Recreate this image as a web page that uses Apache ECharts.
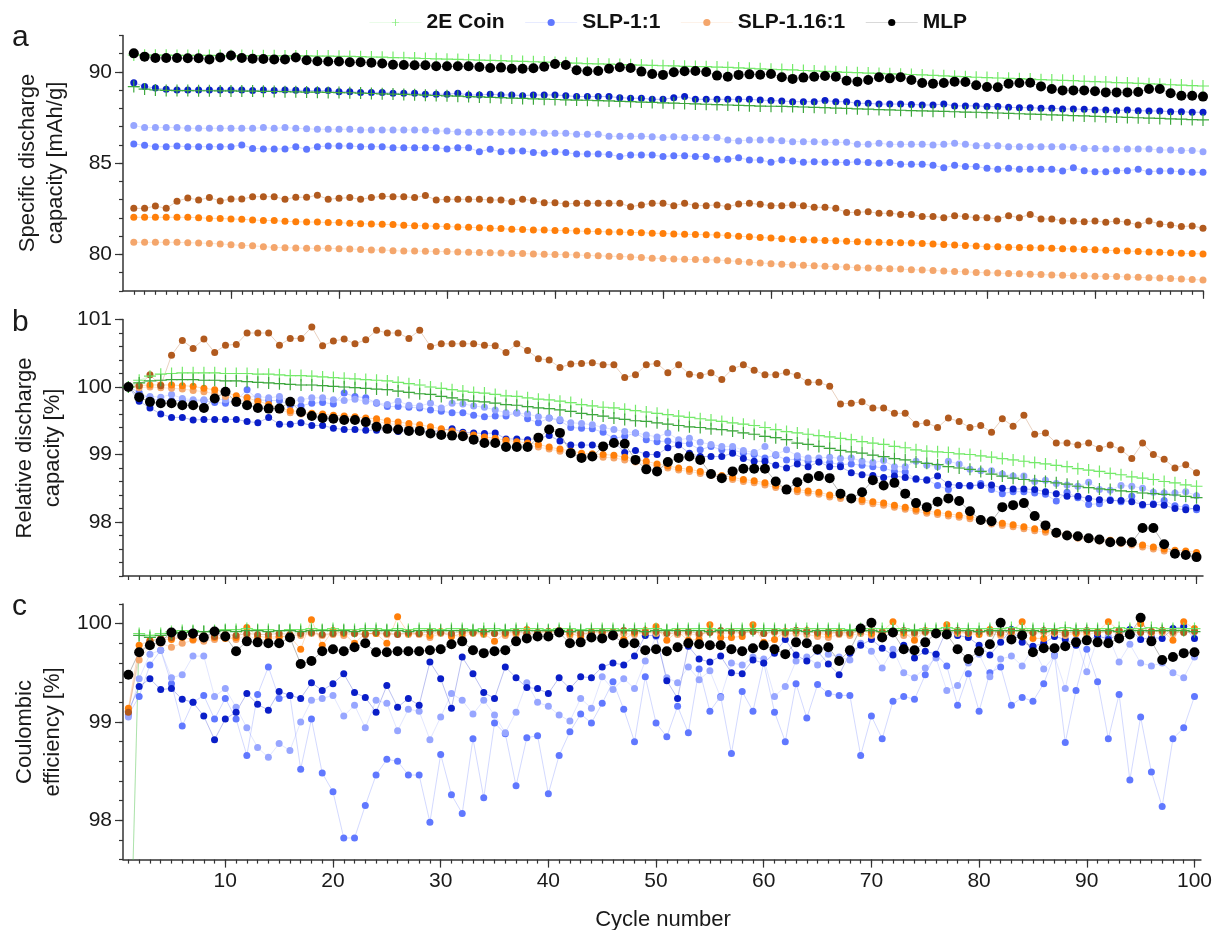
<!DOCTYPE html>
<html>
<head>
<meta charset="utf-8">
<script src="https://cdn.jsdelivr.net/npm/echarts@6/dist/echarts.min.js"></script>
<style>
  html, body { margin: 0; padding: 0; background: #fff; }
  #chart { width: 1215px; height: 930px; }
</style>
</head>
<body>
<div id="chart"></div>
<script>
// Cycle numbers (x categories)
const cycles = Array.from({ length: 100 }, (_, i) => i + 1);

// ---- Panel a: specific discharge capacity [mAh/g] ----
const capCoinA = [
  90.93, 90.92, 90.92, 90.92, 90.91, 90.91, 90.91, 90.91, 90.90, 90.90,
  90.90, 90.89, 90.89, 90.89, 90.88, 90.88, 90.88, 90.87, 90.87, 90.86,
  90.85, 90.84, 90.82, 90.81, 90.79, 90.78, 90.76, 90.74, 90.72, 90.70,
  90.69, 90.67, 90.65, 90.64, 90.62, 90.60, 90.58, 90.56, 90.54, 90.52,
  90.50, 90.48, 90.46, 90.44, 90.43, 90.41, 90.39, 90.38, 90.36, 90.34,
  90.33, 90.31, 90.30, 90.29, 90.27, 90.25, 90.22, 90.20, 90.17, 90.15,
  90.13, 90.11, 90.08, 90.06, 90.03, 90.01, 89.98, 89.96, 89.94, 89.92,
  89.90, 89.88, 89.86, 89.84, 89.81, 89.79, 89.76, 89.74, 89.71, 89.69,
  89.67, 89.65, 89.63, 89.61, 89.58, 89.56, 89.54, 89.52, 89.49, 89.47,
  89.45, 89.42, 89.40, 89.38, 89.35, 89.33, 89.30, 89.28, 89.25, 89.23
];
const capCoinB = [
  89.20, 89.06, 89.01, 88.99, 88.98, 88.98, 88.97, 88.97, 88.96, 88.96,
  88.95, 88.95, 88.94, 88.93, 88.92, 88.91, 88.90, 88.89, 88.88, 88.87,
  88.86, 88.84, 88.82, 88.80, 88.79, 88.77, 88.75, 88.73, 88.71, 88.69,
  88.67, 88.65, 88.63, 88.61, 88.59, 88.57, 88.55, 88.53, 88.51, 88.49,
  88.47, 88.46, 88.45, 88.43, 88.41, 88.39, 88.37, 88.35, 88.33, 88.31,
  88.29, 88.27, 88.25, 88.23, 88.21, 88.19, 88.17, 88.15, 88.13, 88.12,
  88.11, 88.10, 88.08, 88.06, 88.04, 88.02, 88.00, 87.98, 87.96, 87.94,
  87.92, 87.90, 87.88, 87.87, 87.85, 87.84, 87.82, 87.80, 87.79, 87.77,
  87.75, 87.73, 87.71, 87.69, 87.67, 87.65, 87.63, 87.61, 87.59, 87.57,
  87.55, 87.53, 87.51, 87.49, 87.47, 87.45, 87.43, 87.41, 87.39, 87.37
];
const capBlueD = [
  89.41, 89.20, 89.12, 89.05, 89.01, 89.01, 89.01, 89.01, 89.01, 89.01,
  89.01, 88.98, 89.01, 88.98, 89.01, 89.00, 88.98, 88.98, 88.98, 88.92,
  88.92, 88.88, 88.88, 88.88, 88.83, 88.83, 88.83, 88.78, 88.78, 88.78,
  88.83, 88.74, 88.74, 88.78, 88.74, 88.74, 88.70, 88.74, 88.74, 88.74,
  88.70, 88.65, 88.65, 88.65, 88.65, 88.59, 88.56, 88.56, 88.50, 88.50,
  88.59, 88.65, 88.50, 88.50, 88.50, 88.50, 88.50, 88.50, 88.46, 88.43,
  88.41, 88.37, 88.37, 88.37, 88.43, 88.37, 88.37, 88.28, 88.28, 88.24,
  88.24, 88.24, 88.22, 88.19, 88.19, 88.24, 88.14, 88.14, 88.14, 88.10,
  88.10, 88.06, 88.04, 88.04, 88.01, 88.01, 87.97, 87.97, 87.95, 87.92,
  87.92, 87.88, 87.92, 87.88, 87.86, 87.86, 87.82, 87.82, 87.79, 87.79
];
const capBlueL = [
  87.06, 86.95, 86.95, 86.95, 86.95, 86.91, 86.91, 86.91, 86.91, 86.91,
  86.91, 86.91, 86.95, 86.91, 86.95, 86.91, 86.88, 86.86, 86.86, 86.86,
  86.86, 86.82, 86.82, 86.82, 86.82, 86.82, 86.82, 86.82, 86.76, 86.76,
  86.71, 86.69, 86.69, 86.69, 86.69, 86.69, 86.69, 86.69, 86.64, 86.64,
  86.64, 86.58, 86.58, 86.58, 86.47, 86.47, 86.47, 86.47, 86.45, 86.40,
  86.45, 86.40, 86.40, 86.40, 86.40, 86.27, 86.22, 86.27, 86.27, 86.27,
  86.23, 86.18, 86.18, 86.18, 86.14, 86.14, 86.14, 86.03, 86.03, 86.09,
  86.03, 86.03, 86.03, 86.03, 86.00, 86.03, 86.09, 86.03, 85.96, 85.96,
  85.96, 85.90, 85.90, 85.90, 85.90, 85.90, 85.90, 85.87, 85.81, 85.81,
  85.78, 85.78, 85.78, 85.78, 85.78, 85.72, 85.72, 85.69, 85.69, 85.63
];
const capBlueM = [
  86.05, 85.98, 85.90, 85.90, 85.94, 85.90, 85.90, 85.90, 85.90, 85.90,
  86.00, 85.81, 85.78, 85.78, 85.78, 85.90, 85.76, 85.90, 85.94, 85.94,
  85.94, 85.90, 85.90, 85.90, 85.85, 85.85, 85.85, 85.85, 85.85, 85.78,
  85.85, 85.85, 85.63, 85.76, 85.63, 85.67, 85.67, 85.59, 85.54, 85.63,
  85.58, 85.50, 85.50, 85.50, 85.48, 85.36, 85.45, 85.45, 85.45, 85.36,
  85.41, 85.41, 85.36, 85.36, 85.21, 85.21, 85.30, 85.17, 85.17, 85.05,
  85.17, 85.12, 85.05, 85.08, 85.05, 85.05, 85.03, 85.08, 85.03, 84.99,
  85.03, 84.94, 84.94, 84.94, 84.88, 84.75, 84.88, 84.81, 84.81, 84.72,
  84.66, 84.72, 84.66, 84.66, 84.66, 84.66, 84.57, 84.75, 84.59, 84.53,
  84.53, 84.59, 84.59, 84.66, 84.53, 84.57, 84.57, 84.53, 84.50, 84.50
];
const capBrown = [
  82.52, 82.52, 82.65, 82.52, 82.91, 83.09, 82.98, 83.11, 82.93, 83.03,
  83.03, 83.16, 83.16, 83.16, 83.02, 83.13, 83.13, 83.24, 83.02, 83.07,
  83.11, 83.02, 83.11, 83.18, 83.16, 83.16, 83.11, 83.22, 82.98, 83.02,
  83.02, 83.02, 83.02, 82.98, 82.98, 82.89, 83.02, 82.94, 82.83, 82.83,
  82.76, 82.80, 82.80, 82.80, 82.80, 82.80, 82.61, 82.71, 82.80, 82.80,
  82.67, 82.80, 82.67, 82.67, 82.71, 82.61, 82.76, 82.80, 82.74, 82.67,
  82.67, 82.71, 82.67, 82.58, 82.58, 82.52, 82.30, 82.30, 82.34, 82.25,
  82.25, 82.19, 82.19, 82.07, 82.07, 82.01, 82.12, 82.07, 82.01, 82.01,
  81.94, 82.12, 82.01, 82.19, 81.94, 81.94, 81.83, 81.83, 81.79, 81.83,
  81.76, 81.83, 81.76, 81.61, 81.83, 81.66, 81.61, 81.52, 81.56, 81.43
];
const capOrange = [
  82.03, 82.03, 82.03, 82.03, 82.03, 82.03, 82.01, 81.97, 81.97, 81.94,
  81.92, 81.88, 81.86, 81.85, 81.81, 81.79, 81.77, 81.77, 81.74, 81.74,
  81.70, 81.68, 81.66, 81.65, 81.63, 81.59, 81.57, 81.56, 81.54, 81.52,
  81.50, 81.48, 81.46, 81.43, 81.41, 81.37, 81.36, 81.34, 81.33, 81.31,
  81.30, 81.28, 81.26, 81.25, 81.23, 81.22, 81.20, 81.19, 81.16, 81.14,
  81.12, 81.10, 81.09, 81.07, 81.06, 81.03, 80.99, 80.96, 80.92, 80.89,
  80.85, 80.82, 80.80, 80.78, 80.76, 80.74, 80.72, 80.69, 80.68, 80.66,
  80.65, 80.63, 80.62, 80.60, 80.57, 80.54, 80.51, 80.48, 80.45, 80.42,
  80.41, 80.39, 80.38, 80.36, 80.35, 80.33, 80.31, 80.29, 80.27, 80.25,
  80.22, 80.20, 80.18, 80.16, 80.13, 80.11, 80.09, 80.06, 80.04, 80.02
];
const capOrangeL = [
  80.66, 80.66, 80.66, 80.66, 80.66, 80.64, 80.62, 80.60, 80.57, 80.53,
  80.49, 80.47, 80.42, 80.38, 80.36, 80.35, 80.33, 80.33, 80.33, 80.31,
  80.29, 80.27, 80.24, 80.24, 80.20, 80.18, 80.18, 80.17, 80.16, 80.15,
  80.13, 80.12, 80.10, 80.09, 80.07, 80.05, 80.04, 80.02, 80.01, 79.99,
  79.98, 79.96, 79.94, 79.92, 79.90, 79.88, 79.86, 79.82, 79.79, 79.77,
  79.75, 79.73, 79.71, 79.70, 79.69, 79.65, 79.61, 79.57, 79.53, 79.49,
  79.45, 79.42, 79.40, 79.37, 79.35, 79.32, 79.30, 79.27, 79.25, 79.23,
  79.21, 79.19, 79.16, 79.14, 79.11, 79.09, 79.06, 79.04, 79.01, 78.99,
  78.97, 78.95, 78.93, 78.91, 78.89, 78.87, 78.85, 78.83, 78.82, 78.80,
  78.79, 78.78, 78.76, 78.74, 78.72, 78.70, 78.67, 78.65, 78.62, 78.59
];
const capMLP = [
  91.02, 90.84, 90.77, 90.77, 90.77, 90.75, 90.75, 90.69, 90.80, 90.90,
  90.77, 90.73, 90.71, 90.69, 90.69, 90.79, 90.64, 90.59, 90.57, 90.57,
  90.53, 90.53, 90.51, 90.46, 90.40, 90.38, 90.37, 90.37, 90.31, 90.31,
  90.31, 90.31, 90.27, 90.22, 90.24, 90.18, 90.18, 90.20, 90.29, 90.44,
  90.38, 90.09, 90.04, 90.05, 90.18, 90.26, 90.22, 90.02, 89.89, 89.84,
  89.98, 90.04, 90.05, 90.00, 89.80, 89.74, 89.84, 89.87, 89.85, 89.89,
  89.71, 89.62, 89.69, 89.74, 89.78, 89.74, 89.52, 89.47, 89.56, 89.71,
  89.65, 89.71, 89.56, 89.40, 89.36, 89.40, 89.47, 89.45, 89.27, 89.18,
  89.16, 89.36, 89.40, 89.41, 89.21, 89.07, 88.99, 88.99, 88.99, 88.94,
  88.88, 88.88, 88.88, 88.90, 89.07, 89.07, 88.83, 88.70, 88.70, 88.65
];

// ---- Panel b: relative discharge capacity [%] ----
const relCoinA = [
  100.00, 100.10, 100.16, 100.19, 100.20, 100.21, 100.21, 100.21, 100.21, 100.20,
  100.20, 100.20, 100.19, 100.19, 100.18, 100.17, 100.17, 100.16, 100.15, 100.14,
  100.13, 100.12, 100.11, 100.10, 100.09, 100.07, 100.05, 100.03, 100.00, 99.98,
  99.96, 99.94, 99.92, 99.91, 99.89, 99.87, 99.86, 99.84, 99.82, 99.81,
  99.79, 99.77, 99.74, 99.72, 99.70, 99.69, 99.67, 99.65, 99.63, 99.61,
  99.59, 99.57, 99.55, 99.53, 99.51, 99.49, 99.47, 99.45, 99.43, 99.40,
  99.37, 99.34, 99.32, 99.30, 99.28, 99.26, 99.24, 99.22, 99.19, 99.17,
  99.15, 99.12, 99.10, 99.07, 99.05, 99.04, 99.03, 99.01, 99.00, 98.98,
  98.96, 98.94, 98.92, 98.90, 98.88, 98.86, 98.84, 98.82, 98.79, 98.77,
  98.75, 98.72, 98.70, 98.67, 98.65, 98.63, 98.60, 98.58, 98.55, 98.53
];
const relCoinB = [
  100.00, 100.06, 100.09, 100.10, 100.11, 100.11, 100.11, 100.10, 100.10, 100.09,
  100.09, 100.08, 100.07, 100.06, 100.05, 100.04, 100.03, 100.03, 100.02, 100.01,
  100.00, 99.99, 99.98, 99.97, 99.96, 99.94, 99.92, 99.90, 99.89, 99.86,
  99.84, 99.81, 99.79, 99.78, 99.76, 99.74, 99.73, 99.71, 99.69, 99.68,
  99.66, 99.64, 99.61, 99.59, 99.57, 99.54, 99.52, 99.50, 99.49, 99.47,
  99.45, 99.43, 99.41, 99.40, 99.38, 99.37, 99.35, 99.32, 99.30, 99.27,
  99.25, 99.22, 99.17, 99.15, 99.12, 99.09, 99.06, 99.04, 99.02, 98.99,
  98.97, 98.94, 98.92, 98.89, 98.87, 98.85, 98.82, 98.80, 98.78, 98.75,
  98.71, 98.68, 98.65, 98.63, 98.61, 98.60, 98.58, 98.56, 98.53, 98.51,
  98.49, 98.48, 98.46, 98.45, 98.43, 98.42, 98.41, 98.40, 98.38, 98.36
];
const relBlueD = [
  100.00, 99.79, 99.69, 99.60, 99.55, 99.55, 99.51, 99.52, 99.52, 99.52,
  99.52, 99.49, 99.47, 99.55, 99.45, 99.45, 99.47, 99.43, 99.43, 99.39,
  99.37, 99.37, 99.36, 99.36, 99.37, 99.34, 99.35, 99.35, 99.33, 99.36,
  99.38, 99.33, 99.32, 99.31, 99.32, 99.23, 99.23, 99.22, 99.24, 99.28,
  99.20, 99.14, 99.14, 99.14, 99.10, 99.19, 99.03, 99.06, 99.00, 99.00,
  99.10, 99.14, 99.02, 98.97, 98.97, 98.97, 99.02, 98.94, 98.90, 98.90,
  98.84, 98.80, 98.86, 98.82, 98.89, 98.82, 98.82, 98.73, 98.70, 98.69,
  98.66, 98.68, 98.66, 98.64, 98.62, 98.68, 98.56, 98.54, 98.54, 98.54,
  98.55, 98.50, 98.49, 98.49, 98.48, 98.45, 98.42, 98.38, 98.38, 98.35,
  98.33, 98.32, 98.32, 98.30, 98.26, 98.26, 98.25, 98.20, 98.18, 98.21
];
const relBlueL = [
  100.00, 99.86, 99.86, 99.85, 99.89, 99.83, 99.81, 99.81, 99.82, 99.81,
  99.76, 99.85, 99.86, 99.84, 99.86, 99.79, 99.81, 99.84, 99.84, 99.81,
  99.80, 99.82, 99.79, 99.77, 99.74, 99.79, 99.73, 99.72, 99.76, 99.69,
  99.76, 99.75, 99.72, 99.70, 99.66, 99.62, 99.61, 99.60, 99.56, 99.54,
  99.52, 99.47, 99.46, 99.44, 99.40, 99.37, 99.34, 99.32, 99.29, 99.26,
  99.32, 99.22, 99.24, 99.18, 99.15, 99.12, 99.12, 99.06, 99.03, 99.12,
  99.00, 99.07, 98.98, 98.95, 98.95, 98.96, 98.94, 98.95, 98.90, 98.88,
  98.91, 98.82, 98.82, 98.90, 98.84, 98.82, 98.90, 98.86, 98.78, 98.76,
  98.76, 98.71, 98.68, 98.68, 98.60, 98.62, 98.57, 98.55, 98.53, 98.59,
  98.48, 98.47, 98.54, 98.53, 98.50, 98.44, 98.43, 98.43, 98.45, 98.39
];
const relBlueM = [
  100.00, 99.92, 99.83, 99.80, 99.80, 99.80, 99.79, 99.80, 99.77, 99.76,
  99.80, 99.96, 99.81, 99.80, 99.80, 99.73, 99.72, 99.76, 99.77, 99.75,
  99.91, 99.86, 99.84, 99.76, 99.71, 99.71, 99.70, 99.69, 99.66, 99.64,
  99.62, 99.62, 99.58, 99.56, 99.57, 99.57, 99.62, 99.53, 99.47, 99.54,
  99.50, 99.40, 99.39, 99.38, 99.33, 99.24, 99.27, 99.32, 99.22, 99.19,
  99.20, 99.17, 99.16, 99.07, 99.12, 99.07, 99.07, 99.02, 99.00, 98.95,
  98.99, 98.92, 98.93, 98.90, 98.89, 98.88, 98.85, 98.86, 98.84, 98.82,
  98.80, 98.75, 98.74, 98.63, 98.63, 98.54, 98.48, 98.54, 98.53, 98.57,
  98.48, 98.42, 98.45, 98.45, 98.43, 98.41, 98.31, 98.44, 98.36, 98.26,
  98.27, 98.33, 98.30, 98.38, 98.25, 98.27, 98.32, 98.24, 98.22, 98.18
];
const relBrown = [
  100.00, 100.02, 100.18, 100.02, 100.47, 100.69, 100.57, 100.71, 100.51, 100.62,
  100.63, 100.80, 100.80, 100.80, 100.62, 100.72, 100.72, 100.89, 100.61, 100.68,
  100.71, 100.64, 100.70, 100.84, 100.80, 100.80, 100.72, 100.84, 100.60, 100.64,
  100.64, 100.64, 100.64, 100.62, 100.61, 100.51, 100.64, 100.54, 100.42, 100.40,
  100.29, 100.34, 100.35, 100.36, 100.33, 100.33, 100.14, 100.18, 100.33, 100.35,
  100.21, 100.33, 100.19, 100.17, 100.21, 100.11, 100.27, 100.33, 100.25, 100.18,
  100.18, 100.22, 100.17, 100.07, 100.07, 100.01, 99.75, 99.76, 99.78, 99.69,
  99.69, 99.61, 99.61, 99.45, 99.47, 99.40, 99.54, 99.49, 99.40, 99.43,
  99.33, 99.53, 99.42, 99.58, 99.30, 99.32, 99.17, 99.17, 99.14, 99.17,
  99.09, 99.14, 99.07, 98.94, 99.17, 99.00, 98.93, 98.80, 98.85, 98.73
];
const relOrange = [
  100.00, 100.02, 100.03, 100.03, 100.03, 100.02, 100.01, 99.98, 99.96, 99.92,
  99.87, 99.84, 99.79, 99.74, 99.69, 99.65, 99.63, 99.61, 99.60, 99.58,
  99.57, 99.56, 99.54, 99.53, 99.50, 99.48, 99.46, 99.44, 99.41, 99.38,
  99.35, 99.31, 99.29, 99.26, 99.24, 99.21, 99.19, 99.17, 99.15, 99.11,
  99.08, 99.05, 99.02, 99.01, 99.00, 98.99, 98.96, 98.93, 98.90, 98.86,
  98.83, 98.80, 98.78, 98.75, 98.72, 98.69, 98.66, 98.63, 98.61, 98.58,
  98.54, 98.50, 98.48, 98.46, 98.44, 98.40, 98.38, 98.36, 98.33, 98.30,
  98.28, 98.25, 98.22, 98.19, 98.16, 98.14, 98.12, 98.10, 98.08, 98.04,
  98.00, 97.98, 97.96, 97.93, 97.90, 97.88, 97.85, 97.82, 97.79, 97.77,
  97.75, 97.73, 97.71, 97.69, 97.66, 97.63, 97.60, 97.58, 97.57, 97.55
];
const relOrangeL = [
  100.00, 99.99, 100.00, 99.99, 99.98, 99.97, 99.95, 99.93, 99.90, 99.86,
  99.82, 99.78, 99.74, 99.70, 99.66, 99.62, 99.60, 99.58, 99.56, 99.55,
  99.53, 99.52, 99.50, 99.49, 99.46, 99.44, 99.42, 99.40, 99.37, 99.34,
  99.31, 99.28, 99.26, 99.23, 99.20, 99.18, 99.16, 99.14, 99.11, 99.08,
  99.05, 99.02, 98.99, 98.97, 98.96, 98.95, 98.92, 98.89, 98.86, 98.83,
  98.80, 98.77, 98.75, 98.72, 98.69, 98.66, 98.63, 98.60, 98.58, 98.55,
  98.51, 98.47, 98.45, 98.43, 98.41, 98.37, 98.35, 98.33, 98.30, 98.27,
  98.25, 98.22, 98.19, 98.16, 98.13, 98.11, 98.09, 98.07, 98.05, 98.01,
  97.97, 97.95, 97.93, 97.90, 97.87, 97.85, 97.82, 97.79, 97.76, 97.74,
  97.72, 97.70, 97.68, 97.66, 97.63, 97.60, 97.57, 97.55, 97.54, 97.52
];
const relMLP = [
  100.00, 99.85, 99.78, 99.76, 99.76, 99.73, 99.73, 99.69, 99.83, 99.93,
  99.78, 99.73, 99.69, 99.68, 99.68, 99.78, 99.63, 99.57, 99.54, 99.53,
  99.51, 99.51, 99.48, 99.41, 99.38, 99.37, 99.35, 99.35, 99.31, 99.29,
  99.28, 99.27, 99.22, 99.17, 99.17, 99.11, 99.11, 99.11, 99.25, 99.37,
  99.32, 99.02, 98.95, 98.97, 99.12, 99.17, 99.16, 98.92, 98.78, 98.75,
  98.89, 98.95, 98.97, 98.92, 98.71, 98.65, 98.75, 98.79, 98.79, 98.79,
  98.60, 98.48, 98.59, 98.65, 98.68, 98.65, 98.42, 98.35, 98.44, 98.62,
  98.54, 98.58, 98.42, 98.28, 98.22, 98.30, 98.35, 98.31, 98.16, 98.03,
  98.01, 98.22, 98.25, 98.28, 98.09, 97.95, 97.84, 97.80, 97.79, 97.76,
  97.74, 97.70, 97.71, 97.70, 97.91, 97.91, 97.67, 97.53, 97.51, 97.48
];

// ---- Panel c: coulombic efficiency [%] ----
const ceCoinA = [
  95.80, 99.90, 99.88, 99.90, 99.92, 99.93, 99.93, 99.92, 99.93, 99.94,
  99.94, 99.95, 99.94, 99.94, 99.93, 99.94, 99.94, 99.95, 99.94, 99.95,
  99.94, 99.94, 99.95, 99.95, 99.94, 99.95, 99.94, 99.95, 99.95, 99.94,
  99.95, 99.95, 99.94, 99.95, 99.95, 99.94, 99.95, 99.95, 99.95, 99.94,
  99.95, 99.95, 99.94, 99.95, 99.95, 99.95, 99.94, 99.95, 99.95, 99.95,
  99.94, 99.95, 99.95, 99.95, 99.95, 99.94, 99.95, 99.95, 99.95, 99.95,
  99.95, 99.94, 99.95, 99.95, 99.95, 99.95, 99.95, 99.94, 99.95, 99.95,
  99.95, 99.95, 99.95, 99.94, 99.95, 99.95, 99.96, 99.95, 99.95, 99.95,
  99.95, 99.95, 99.96, 99.95, 99.95, 99.95, 99.95, 99.96, 99.95, 99.95,
  99.95, 99.95, 99.96, 99.95, 99.95, 99.96, 99.95, 99.95, 99.95, 99.95
];
const ceCoinB = [
  95.80, 99.88, 99.86, 99.88, 99.90, 99.91, 99.92, 99.92, 99.92, 99.93,
  99.92, 99.93, 99.93, 99.92, 99.93, 99.93, 99.92, 99.93, 99.93, 99.93,
  99.93, 99.92, 99.93, 99.93, 99.93, 99.93, 99.92, 99.93, 99.93, 99.93,
  99.93, 99.93, 99.93, 99.92, 99.93, 99.93, 99.93, 99.93, 99.93, 99.93,
  99.93, 99.92, 99.93, 99.93, 99.93, 99.93, 99.93, 99.93, 99.92, 99.93,
  99.93, 99.93, 99.93, 99.93, 99.92, 99.93, 99.93, 99.93, 99.93, 99.93,
  99.93, 99.93, 99.93, 99.92, 99.93, 99.93, 99.93, 99.93, 99.93, 99.93,
  99.92, 99.93, 99.93, 99.93, 99.93, 99.93, 99.93, 99.93, 99.93, 99.92,
  99.93, 99.93, 99.93, 99.93, 99.93, 99.92, 99.93, 99.93, 99.93, 99.93,
  99.93, 99.93, 99.92, 99.93, 99.93, 99.93, 99.93, 99.93, 99.93, 99.92
];
const ceBlueD = [
  99.11, 99.36, 99.44, 99.33, 99.34, 99.23, 99.20, 99.06, 98.82, 99.03,
  99.10, 99.29, 99.18, 99.12, 99.31, 99.27, 99.24, 99.40, 99.32, 99.39,
  99.49, 99.30, 99.25, 99.10, 99.37, 99.15, 99.24, 99.17, 99.61, 99.44,
  99.14, 99.66, 99.49, 99.30, 99.24, 99.56, 99.45, 99.35, 99.34, 99.29,
  99.45, 99.34, 99.46, 99.45, 99.56, 99.60, 99.58, 99.67, 99.88, 99.88,
  99.42, 99.24, 99.77, 99.64, 99.61, 99.67, 99.50, 99.49, 99.63, 99.60,
  99.70, 99.84, 99.68, 99.62, 99.72, 99.59, 99.48, 99.70, 99.78, 99.84,
  99.75, 99.68, 99.78, 99.65, 99.72, 99.69, 99.94, 99.88, 99.86, 99.78,
  99.68, 99.81, 99.94, 99.81, 99.77, 99.80, 99.87, 99.84, 99.78, 99.82,
  99.88, 99.84, 99.89, 99.94, 99.84, 99.86, 99.85, 99.95, 99.97, 99.85
];
const ceBlueM = [
  99.07, 99.26, 99.58, 99.73, 99.39, 98.96, 99.20, 99.27, 99.03, 99.24,
  99.03, 98.66, 99.28, 99.56, 99.24, 99.27, 98.52, 99.03, 98.48, 98.29,
  97.82, 97.82, 98.15, 98.46, 98.62, 98.60, 98.46, 98.46, 97.98, 98.67,
  98.26, 98.07, 98.83, 98.23, 98.99, 98.88, 98.35, 98.84, 98.86, 98.27,
  98.66, 98.90, 99.08, 98.99, 99.19, 99.41, 99.13, 98.80, 99.46, 98.99,
  98.85, 99.16, 98.89, 99.54, 99.11, 99.26, 98.68, 99.31, 99.11, 99.60,
  99.10, 98.80, 99.39, 99.04, 99.38, 99.29, 99.27, 99.27, 98.66, 99.06,
  98.83, 99.21, 99.26, 99.23, 99.48, 99.69, 99.57, 99.17, 99.49, 99.11,
  99.50, 99.56, 99.17, 99.25, 99.21, 99.39, 99.68, 98.79, 99.32, 99.74,
  99.41, 98.83, 99.28, 98.41, 99.05, 98.49, 98.14, 98.83, 98.94, 99.26
];
const ceBlueL = [
  99.05, 99.44, 99.69, 99.73, 99.45, 99.48, 99.67, 99.67, 99.26, 99.34,
  99.15, 98.94, 98.74, 98.64, 98.78, 98.71, 99.00, 99.22, 99.24, 99.27,
  99.06, 99.17, 98.94, 99.22, 99.19, 98.91, 99.13, 99.11, 98.82, 99.05,
  99.29, 99.22, 99.08, 99.22, 99.07, 98.89, 99.10, 99.40, 99.20, 99.16,
  99.07, 99.01, 99.24, 99.14, 99.46, 99.33, 99.44, 99.34, 99.62, 99.87,
  99.45, 99.40, 99.56, 99.43, 99.52, 99.25, 99.60, 99.58, 99.66, 99.64,
  99.26, 99.36, 99.62, 99.66, 99.58, 99.69, 99.66, 99.63, 99.80, 99.72,
  99.55, 99.74, 99.50, 99.45, 99.55, 99.65, 99.32, 99.37, 99.60, 99.69,
  99.46, 99.64, 99.67, 99.57, 99.76, 99.54, 99.67, 99.34, 99.84, 99.51,
  99.85, 99.87, 99.61, 99.79, 99.60, 99.57, 99.60, 99.50, 99.45, 99.66
];
const ceBrown = [
  99.10, 99.70, 99.82, 99.85, 99.86, 99.87, 99.88, 99.88, 99.87, 99.89,
  99.88, 99.90, 99.89, 99.89, 99.90, 99.89, 99.90, 99.91, 99.89, 99.90,
  99.91, 99.90, 99.89, 99.91, 99.90, 99.89, 99.91, 99.90, 99.92, 99.91,
  99.90, 99.92, 99.91, 99.92, 99.90, 99.91, 99.92, 99.90, 99.91, 99.92,
  99.91, 99.92, 99.90, 99.91, 99.92, 99.91, 99.93, 99.92, 99.91, 99.92,
  99.90, 99.91, 99.92, 99.90, 99.91, 99.93, 99.92, 99.91, 99.92, 99.90,
  99.92, 99.91, 99.93, 99.92, 99.91, 99.92, 99.90, 99.91, 99.92, 99.93,
  99.91, 99.92, 99.93, 99.91, 99.92, 99.90, 99.92, 99.93, 99.91, 99.92,
  99.92, 99.91, 99.93, 99.92, 99.91, 99.93, 99.92, 99.90, 99.92, 99.93,
  99.91, 99.92, 99.93, 99.92, 99.91, 99.92, 99.93, 99.92, 99.91, 99.92
];
const ceOrange = [
  99.14, 99.78, 99.83, 99.84, 99.84, 99.86, 99.84, 99.85, 99.86, 99.85,
  99.86, 99.96, 99.87, 99.86, 99.87, 99.87, 99.74, 100.04, 99.78, 99.93,
  99.90, 99.80, 99.90, 99.90, 99.80, 100.07, 99.90, 99.90, 99.88, 99.92,
  99.87, 99.90, 99.91, 99.90, 99.82, 99.90, 99.91, 99.94, 99.91, 99.92,
  99.93, 99.90, 99.87, 99.92, 99.91, 99.92, 99.84, 99.91, 99.93, 99.97,
  99.83, 99.92, 99.83, 99.84, 99.99, 99.86, 99.86, 99.87, 99.99, 99.81,
  99.84, 99.92, 99.93, 99.93, 99.90, 99.89, 99.92, 99.90, 99.93, 99.90,
  99.92, 100.02, 99.91, 99.83, 99.93, 99.92, 99.99, 99.92, 99.90, 99.89,
  99.94, 99.90, 99.92, 100.02, 99.85, 99.85, 99.92, 99.91, 99.90, 99.92,
  99.92, 100.02, 99.93, 99.91, 100.00, 99.92, 99.93, 99.83, 100.02, 99.95
];
const ceOrangeL = [
  99.12, 99.63, 99.78, 99.80, 99.76, 99.80, 99.83, 99.82, 99.84, 99.86,
  99.84, 99.88, 99.84, 99.84, 99.86, 99.88, 99.88, 99.90, 99.88, 99.89,
  99.88, 99.90, 99.89, 99.90, 99.89, 99.90, 99.89, 99.89, 99.86, 99.90,
  99.88, 99.87, 99.90, 99.89, 99.90, 99.88, 99.89, 99.90, 99.88, 99.91,
  99.90, 99.88, 99.91, 99.89, 99.90, 99.88, 99.90, 99.89, 99.91, 99.90,
  99.91, 99.89, 99.90, 99.88, 99.92, 99.90, 99.91, 99.90, 99.92, 99.90,
  99.91, 99.89, 99.90, 99.89, 99.87, 99.86, 99.89, 99.88, 99.90, 99.88,
  99.91, 99.90, 99.88, 99.89, 99.91, 99.90, 99.93, 99.90, 99.91, 99.92,
  99.90, 99.88, 99.90, 99.91, 99.90, 99.91, 99.90, 99.88, 99.90, 99.89,
  99.91, 99.92, 99.90, 99.89, 99.92, 99.90, 99.91, 99.90, 99.92, 99.93
];
const ceMLP = [
  99.48, 99.71, 99.78, 99.82, 99.91, 99.88, 99.90, 99.86, 99.92, 99.87,
  99.72, 99.82, 99.81, 99.80, 99.80, 99.86, 99.59, 99.62, 99.72, 99.74,
  99.72, 99.76, 99.80, 99.71, 99.71, 99.72, 99.72, 99.72, 99.73, 99.74,
  99.79, 99.82, 99.73, 99.70, 99.72, 99.73, 99.82, 99.85, 99.87, 99.87,
  99.91, 99.80, 99.81, 99.86, 99.85, 99.88, 99.80, 99.80, 99.73, 99.74,
  99.72, 99.76, 99.80, 99.79, 99.78, 99.78, 99.74, 99.72, 99.75, 99.78,
  99.74, 99.69, 99.81, 99.80, 99.74, 99.76, 99.62, 99.73, 99.95, 100.01,
  99.86, 99.91, 99.74, 99.73, 99.81, 99.90, 99.89, 99.74, 99.64, 99.72,
  99.79, 100.01, 99.84, 99.88, 99.71, 99.75, 99.75, 99.77, 99.81, 99.83,
  99.81, 99.80, 99.85, 99.89, 100.06, 99.82, 99.63, 99.66, 99.70, 99.71
];

// Axis tick labels
const xMajor = [10, 20, 30, 40, 50, 60, 70, 80, 90, 100];
const yMajorA = [80, 85, 90];
const yMajorB = [98, 99, 100, 101];
const yMajorC = [98, 99, 100];

// ---- styling ----
const FONT = '"Liberation Sans", Arial, Helvetica, sans-serif';
const AXIS = '#333333';
const TEXT = '#1a1a1a';
const PLUS = 'path://M9,0H11V9H20V11H11V20H9V11H0V9H9Z';
const C = {
  coinL: '#74ea6a', coinD: '#3ea83e',
  blueM: '#6078ff', blueL: '#97a6ff', blueD: '#0a1ec8',
  orangeL: '#f4a66c', orange: '#ff7f0a', brown: '#b15a1e',
  mlp: '#000000'
};

function tickRange(from, to, step) {
  const out = [];
  const a = Math.round(from / step), b = Math.round(to / step);
  for (let k = a; k <= b; k++) out.push(+(k * step).toFixed(3));
  return out;
}

const panels = [
  { top: 35.5, height: 255.3, xmin: 0, xmax: 100, ymin: 78, ymax: 92, ystep: 1, major: yMajorA },
  { top: 319.5, height: 256.5, xmin: 0.5, xmax: 100.6, ymin: 97.2, ymax: 101, ystep: 0.2, major: yMajorB },
  { top: 604, height: 255.6, xmin: 0.5, xmax: 100.6, ymin: 97.6, ymax: 100.2, ystep: 0.2, major: yMajorC }
];

const grids = [], xAxes = [], yAxes = [];
panels.forEach((p, i) => {
  grids.push({ left: 123, width: 1080, top: p.top, height: p.height });
  const lineStyle = { color: AXIS, width: 1.5 };
  const tickStyle = { color: AXIS, width: 1.2 };
  // x: minor ticks with the axis line
  xAxes.push({
    type: 'value', gridIndex: i, min: p.xmin, max: p.xmax, position: 'bottom',
    axisLine: { show: true, onZero: false, lineStyle },
    axisTick: { show: true, length: 4, lineStyle: tickStyle, customValues: cycles },
    axisLabel: { show: false }, splitLine: { show: false }
  });
  // x: major ticks (and labels on the bottom panel)
  xAxes.push({
    type: 'value', gridIndex: i, min: p.xmin, max: p.xmax, position: 'bottom',
    axisLine: { show: false, onZero: false },
    axisTick: { show: true, length: 8, lineStyle: tickStyle, customValues: xMajor },
    axisLabel: { show: i === 2, customValues: xMajor, fontSize: 21, color: TEXT, fontFamily: FONT, margin: 11 },
    splitLine: { show: false }
  });
  yAxes.push({
    type: 'value', gridIndex: i, min: p.ymin, max: p.ymax, position: 'left',
    axisLine: { show: true, onZero: false, lineStyle },
    axisTick: { show: true, length: 4, lineStyle: tickStyle, customValues: tickRange(p.ymin, p.ymax, p.ystep) },
    axisLabel: { show: false }, splitLine: { show: false }
  });
  yAxes.push({
    type: 'value', gridIndex: i, min: p.ymin, max: p.ymax, position: 'left',
    axisLine: { show: false, onZero: false },
    axisTick: { show: true, length: 8, lineStyle: tickStyle, customValues: p.major },
    axisLabel: { show: true, customValues: p.major, fontSize: 21, color: TEXT, fontFamily: FONT, margin: 11 },
    splitLine: { show: false }
  });
});

function mk(name, values, color, panel, extra) {
  return Object.assign({
    type: 'line', name,
    xAxisIndex: panel * 2, yAxisIndex: panel * 2,
    data: cycles.map((c, k) => [c, values[k]]),
    symbol: 'circle', symbolSize: 7, showSymbol: true,
    itemStyle: { color },
    lineStyle: { color, width: 1, opacity: 0.28 },
    clip: true, silent: true, animation: false,
    emphasis: { disabled: true }
  }, extra || {});
}

const panelData = [
  { coinA: capCoinA, coinB: capCoinB, bM: capBlueM, bL: capBlueL, bD: capBlueD, oL: capOrangeL, o: capOrange, br: capBrown, mlp: capMLP },
  { coinA: relCoinA, coinB: relCoinB, bM: relBlueM, bL: relBlueL, bD: relBlueD, oL: relOrangeL, o: relOrange, br: relBrown, mlp: relMLP },
  { coinA: ceCoinA, coinB: ceCoinB, bM: ceBlueM, bL: ceBlueL, bD: ceBlueD, oL: ceOrangeL, o: ceOrange, br: ceBrown, mlp: ceMLP }
];

const series = [];
panelData.forEach((d, i) => {
  series.push(mk('SLP-1:1', d.bM, C.blueM, i));
  series.push(mk('SLP-1:1', d.bL, C.blueL, i));
  series.push(mk('SLP-1:1', d.bD, C.blueD, i));
  series.push(mk('SLP-1.16:1', d.oL, C.orangeL, i));
  series.push(mk('SLP-1.16:1', d.o, C.orange, i));
  series.push(mk('SLP-1.16:1', d.br, C.brown, i));
  series.push(mk('2E Coin', d.coinA, C.coinL, i, { symbol: PLUS, symbolSize: 12 }));
  series.push(mk('2E Coin', d.coinB, C.coinD, i, { symbol: PLUS, symbolSize: 12 }));
  series.push(mk('MLP', d.mlp, C.mlp, i, { symbolSize: 10 }));
});

const titleFont = '22px ' + FONT;
const graphic = [
  { type: 'text', x: 12, y: 38, style: { text: 'a', font: '30px ' + FONT, fill: TEXT, verticalAlign: 'middle' } },
  { type: 'text', x: 12, y: 323, style: { text: 'b', font: '30px ' + FONT, fill: TEXT, verticalAlign: 'middle' } },
  { type: 'text', x: 12, y: 607, style: { text: 'c', font: '30px ' + FONT, fill: TEXT, verticalAlign: 'middle' } },
  { type: 'text', x: 42, y: 163, rotation: Math.PI / 2,
    style: { text: 'Specific discharge\ncapacity [mAh/g]', font: titleFont, fill: TEXT, align: 'center', verticalAlign: 'middle', lineHeight: 28 } },
  { type: 'text', x: 39, y: 448, rotation: Math.PI / 2,
    style: { text: 'Relative discharge\ncapacity [%]', font: titleFont, fill: TEXT, align: 'center', verticalAlign: 'middle', lineHeight: 28 } },
  { type: 'text', x: 39, y: 732, rotation: Math.PI / 2,
    style: { text: 'Coulombic\nefficiency [%]', font: titleFont, fill: TEXT, align: 'center', verticalAlign: 'middle', lineHeight: 28 } },
  { type: 'text', x: 663, y: 920,
    style: { text: 'Cycle number', font: titleFont, fill: TEXT, align: 'center', verticalAlign: 'middle' } }
];

const chart = echarts.init(document.getElementById('chart'), null, { renderer: 'canvas' });
chart.setOption({
  animation: false,
  backgroundColor: '#ffffff',
  textStyle: { fontFamily: FONT },
  legend: {
    data: ['2E Coin', 'SLP-1:1', 'SLP-1.16:1', 'MLP'],
    left: 364, top: 7,
    itemWidth: 52, itemHeight: 9, itemGap: 20,
    selectedMode: false,
    lineStyle: { width: 1, opacity: 0.15 },
    textStyle: { fontSize: 21, fontWeight: 'bold', color: '#111', fontFamily: FONT }
  },
  grid: grids,
  xAxis: xAxes,
  yAxis: yAxes,
  series: series,
  graphic: graphic
});
</script>
</body>
</html>
